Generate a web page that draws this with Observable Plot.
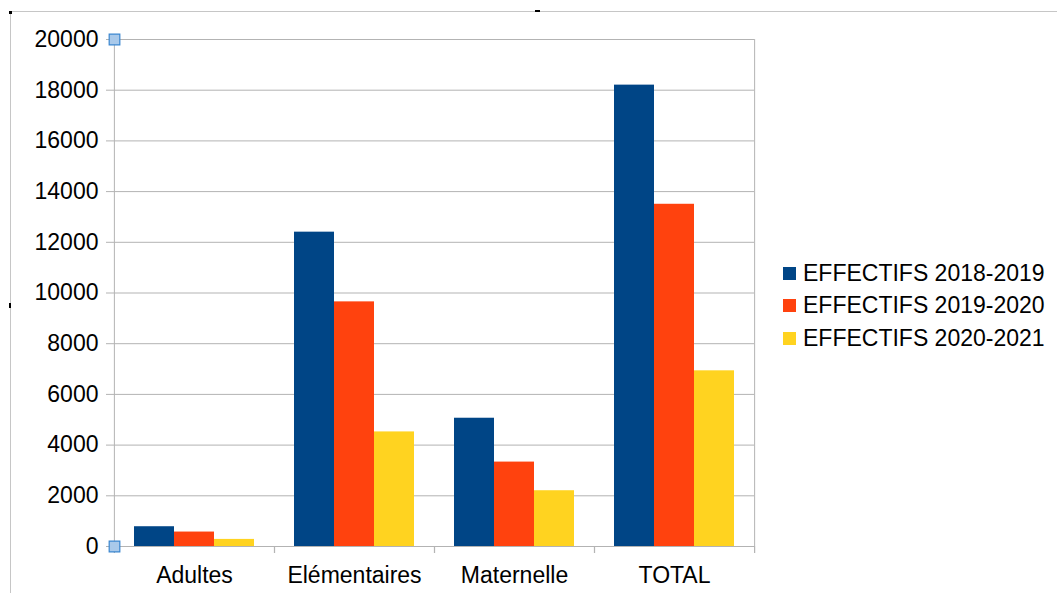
<!DOCTYPE html>
<html><head><meta charset="utf-8">
<script src="https://cdn.jsdelivr.net/npm/d3@7"></script>
<script src="https://cdn.jsdelivr.net/npm/@observablehq/plot@0.6"></script>
<style>
body{margin:0;background:#fff;font-family:"Liberation Sans",Arial,sans-serif;}
#wrap{position:relative;width:1057px;height:593px;overflow:hidden;background:#fff;}
#wrap svg{position:absolute;left:0;top:0;}
#frame{position:absolute;left:10px;top:11px;right:-5px;bottom:-5px;border-top:1.5px solid #c6c6c6;border-left:1.5px solid #c6c6c6;}
.mark{position:absolute;background:#000;}
#legend{position:absolute;left:783px;top:257px;font-size:23px;color:#000;}
.row{position:absolute;left:0;height:32px;white-space:nowrap;display:flex;align-items:center;}
.sw{width:13px;height:13px;margin-right:7px;flex:none;}
</style></head><body>
<div id="wrap"><div id="frame"></div>
<div class="mark" style="left:9px;top:11px;width:3px;height:3px"></div>
<div class="mark" style="left:535px;top:10px;width:5px;height:2px"></div>
<div class="mark" style="left:9px;top:303px;width:2px;height:5px"></div>
<div id="legend"></div></div>
<script>
const categories = ["Adultes", "Elémentaires", "Maternelle", "TOTAL"];
const series = ["EFFECTIFS 2018-2019", "EFFECTIFS 2019-2020", "EFFECTIFS 2020-2021"];
const values2018 = [780, 12400, 5060, 18200];
const values2019 = [570, 9650, 3330, 13500];
const values2020 = [280, 4520, 2200, 6930];
const colors = ["#004586", "#ff420e", "#ffd320"];
const yTicks = [0, 2000, 4000, 6000, 8000, 10000, 12000, 14000, 16000, 18000, 20000];

const seriesValues = [values2018, values2019, values2020];
const data = categories.flatMap((c, i) => seriesValues.map((v, j) => ({category: c, series: series[j], value: v[i]})));

const W = 1057, H = 593, ML = 113, MR = 303, MT = 39, MB = 47;
const half = (W - ML - MR) / categories.length / 2;
const grey = "#b3b3b3";
const handles = [{c: categories[0], v: yTicks[0]}, {c: categories[0], v: yTicks[yTicks.length - 1]}];

const chart = Plot.plot({
  width: W, height: H,
  marginLeft: ML, marginRight: MR, marginTop: MT, marginBottom: MB,
  style: {fontFamily: "Liberation Sans, Arial, sans-serif", fontSize: "23px", color: "#000", background: "transparent", overflow: "visible"},
  fx: {domain: categories, padding: 0, label: null, axis: "bottom", tickSize: 0, tickPadding: 20},
  x: {domain: series, paddingInner: 0, paddingOuter: 0.5, axis: null},
  y: {domain: [0, 20000], axis: null},
  color: {domain: series, range: colors},
  marks: [
    Plot.gridY(yTicks, {stroke: grey, strokeOpacity: 1}),
    Plot.barY(data, {fx: "category", x: "series", y: "value", fill: "series"}),
    Plot.ruleX(categories, {fx: d => d, x: null, dx: -half, y1: 0, y2: 0, insetBottom: -7, stroke: grey}),
    Plot.ruleX(categories, {fx: d => d, x: null, dx: half, y1: 0, y2: 0, insetBottom: -7, stroke: grey}),
    Plot.ruleX([categories[0]], {fx: d => d, x: null, dx: -half, insetBottom: -7, stroke: grey}),
    Plot.ruleX([categories[categories.length - 1]], {fx: d => d, x: null, dx: half, insetBottom: -7, stroke: grey}),
    Plot.axisY(yTicks, {facetAnchor: "left", tickSize: 8, tickPadding: 8, stroke: grey, fill: "#000", tickFormat: d => String(d), label: null}),
    Plot.dot(handles, {fx: "c", y: "v", frameAnchor: "left", symbol: "square", r: 6, fill: "#a9c9ea", stroke: "#3a86cf", strokeWidth: 1.2})
  ]
});
document.getElementById("wrap").appendChild(chart);

const legend = document.getElementById("legend");
series.forEach((s, i) => {
  const row = document.createElement("div");
  row.className = "row";
  row.style.top = (i * 32.5) + "px";
  const sw = document.createElement("div");
  sw.className = "sw";
  sw.style.background = colors[i];
  const t = document.createElement("span");
  t.textContent = s;
  row.appendChild(sw); row.appendChild(t);
  legend.appendChild(row);
});
</script></body></html>
